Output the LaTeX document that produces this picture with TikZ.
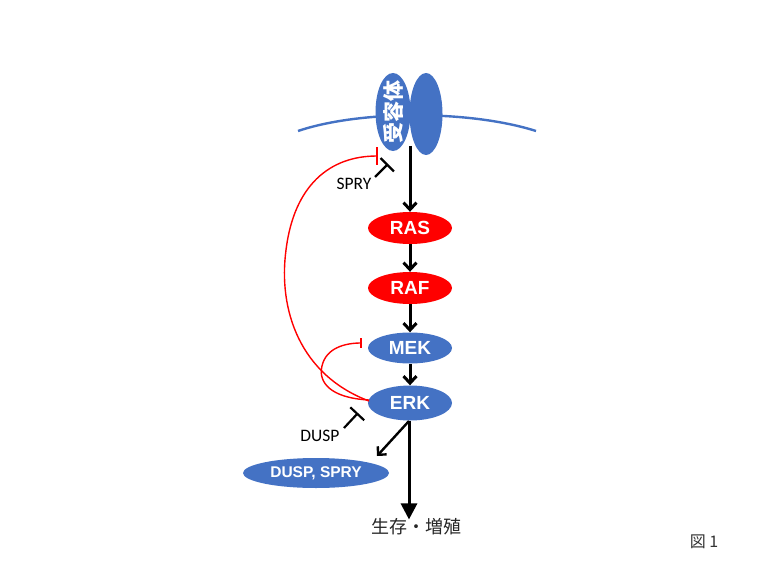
\documentclass[tikz,border=0pt]{standalone}
\usepackage{fontspec}
\setmainfont{Liberation Sans}
\newfontfamily\cjk{Noto Sans CJK JP}
\newfontfamily\calib{Carlito}
\usetikzlibrary{arrows.meta,shapes.geometric}
\definecolor{mblue}{HTML}{4472C4}
\definecolor{mred}{HTML}{FF0000}
\tikzset{
  prot/.style={ellipse, draw=none, minimum width=84pt, minimum height=32pt, inner sep=0pt,
    text=white, font=\fontsize{19}{19}\selectfont\bfseries},
  redprot/.style={prot, fill=mred},
  blueprot/.style={prot, fill=mblue},
  act/.style={draw=black, line width=3pt, -{Straight Barb[length=7pt,width=13pt,line width=3pt]}},
  inh/.style={draw=mred, line width=1.4pt, -{Bar[width=18pt,line width=1.6pt]}},
  inhsmall/.style={draw=mred, line width=1.4pt, -{Bar[width=10pt,line width=1.6pt]}},
  lbl/.style={font=\calib\fontsize{17.5}{17.5}\selectfont},
}
\begin{document}
\begin{tikzpicture}[x=1pt,y=-1pt]
\useasboundingbox (0,0) rectangle (760,567);
% membrane
\draw[mblue, line width=2.4pt] (298,131) .. controls (360,110) and (470,110) .. (536,131);
% receptor
\fill[mblue] (426,114) ellipse [x radius=16.5, y radius=41];
\fill[mblue] (393,112) ellipse [x radius=17.5, y radius=39];
\node[text=white, rotate=90, font=\cjk\fontsize{21}{21}\selectfont\bfseries, inner sep=0pt] (rec) at (393,112) {受容体};
\coordinate (recout) at (410,146);
% proteins
\node[redprot] (ras) at (410,228) {RAS};
\node[redprot] (raf) at (410,288) {RAF};
\node[blueprot, minimum height=31pt] (mek) at (410,348) {MEK};
\node[blueprot, minimum height=35pt] (erk) at (410,403) {ERK};
\node[ellipse, fill=mblue, minimum width=146pt, minimum height=30pt, inner sep=0pt, text=white,
  font=\fontsize{15.5}{15.5}\selectfont\bfseries] (ds) at (316,473) {DUSP, SPRY};
% arrows
\draw[act] (recout) -- (ras.north);
\draw[act] (ras.south) -- (raf.north);
\draw[act] (raf.south) -- (mek.north);
\draw[act] (mek.south) -- (erk.north);
\coordinate (erkb) at (409,421);
\coordinate (dsend) at (377,456);
\draw[draw=black, line width=2.4pt, -{Straight Barb[length=6pt,width=12pt,line width=2.4pt]}] (erkb) -- (dsend);
\node[font=\cjk\fontsize{18}{18}\selectfont, text=black!85, inner sep=0pt] (surv) at (416,527) {生存・増殖};
\draw[draw=black, line width=3pt, -{Triangle[length=16pt,width=16pt]}] (erkb) -- ([yshift=-1pt]surv.north -| erkb);
% red inhibitions
\coordinate (erkl1) at (369,401);
\coordinate (erkl2) at (369,400);
\coordinate (rectarget) at (378,156);
\coordinate (mektarget) at (362,343);
\draw[inh] (erkl1) .. controls (300,375) and (278,310) .. (286,250)
  .. controls (294,185) and (330,156) .. (rectarget);
\draw[inhsmall] (erkl2) .. controls (330,398) and (318,382) .. (322,366)
  .. controls (326,348) and (345,343) .. (mektarget);
% black inhibitions
\node[lbl, inner sep=0pt] (spry) at (354,184) {SPRY};
\coordinate (spryend) at (388,164);
\draw[black, line width=2.2pt, -{Bar[width=19pt,line width=2.2pt]}] (375,177) -- (spryend);
\node[lbl, inner sep=0pt] (dusp) at (320,436) {DUSP};
\coordinate (duspend) at (358,413);
\draw[black, line width=2.2pt, -{Bar[width=19pt,line width=2.2pt]}] (344,428) -- (duspend);
% figure label
\node[font=\cjk\fontsize{16}{16}\selectfont, text=black!80, inner sep=0pt] (fig) at (704,542) {図 1};
\end{tikzpicture}
\end{document}
